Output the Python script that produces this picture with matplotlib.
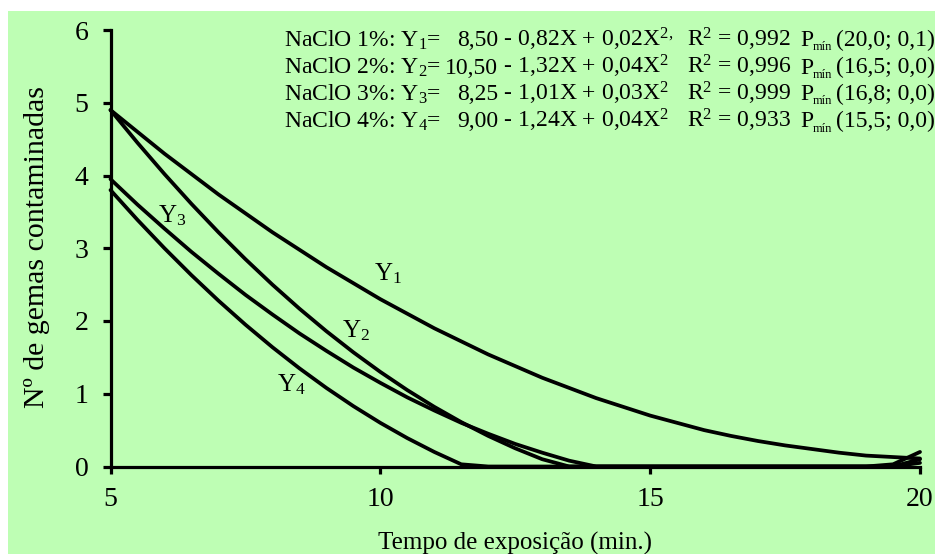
import matplotlib
matplotlib.use("Agg")
import matplotlib.pyplot as plt
from matplotlib.patches import Rectangle

plt.rcParams['font.family'] = ['Liberation Serif', 'DejaVu Serif']
plt.rcParams['mathtext.fontset'] = 'custom'
plt.rcParams['mathtext.rm'] = 'Liberation Serif'
plt.rcParams['mathtext.it'] = 'Liberation Serif:italic'
plt.rcParams['mathtext.bf'] = 'Liberation Serif:bold'

# ---- data ----
x_values = [5.0, 5.5, 6.0, 6.5, 7.0, 7.5, 8.0, 8.5, 9.0, 9.5, 10.0, 10.5, 11.0,
            11.5, 12.0, 12.5, 13.0, 13.5, 14.0, 14.5, 15.0, 15.5, 16.0, 16.5,
            17.0, 17.5, 18.0, 18.5, 19.0, 19.5, 20.0]
y1_values = [4.90, 4.60, 4.30, 4.02, 3.74, 3.48, 3.22, 2.98, 2.74, 2.52, 2.30,
             2.10, 1.90, 1.72, 1.54, 1.38, 1.22, 1.08, 0.94, 0.82, 0.70, 0.60,
             0.50, 0.42, 0.35, 0.29, 0.24, 0.19, 0.15, 0.13, 0.11]
y2_values = [4.90, 4.45, 4.02, 3.61, 3.22, 2.85, 2.50, 2.17, 1.86, 1.57, 1.30,
             1.05, 0.82, 0.61, 0.42, 0.25, 0.10, 0.00, 0.00, 0.00, 0.00, 0.00,
             0.00, 0.00, 0.00, 0.00, 0.00, 0.00, 0.00, 0.00, 0.10]
y3_values = [3.95, 3.60, 3.27, 2.95, 2.65, 2.36, 2.09, 1.83, 1.59, 1.36, 1.15,
             0.95, 0.77, 0.60, 0.45, 0.31, 0.19, 0.08, 0.00, 0.00, 0.00, 0.00,
             0.00, 0.00, 0.00, 0.00, 0.00, 0.00, 0.00, 0.00, 0.05]
y4_values = [3.80, 3.39, 3.00, 2.63, 2.28, 1.95, 1.64, 1.35, 1.08, 0.83, 0.60,
             0.39, 0.20, 0.03, 0.00, 0.00, 0.00, 0.00, 0.00, 0.00, 0.00, 0.00,
             0.00, 0.00, 0.00, 0.00, 0.00, 0.00, 0.00, 0.03, 0.20]
series = [y1_values, y2_values, y3_values, y4_values]

curve_labels = ["Y$_1$", "Y$_2$", "Y$_3$", "Y$_4$"]
curve_label_pos = [(10.15, 2.65), (9.55, 1.87), (6.15, 3.45), (8.35, 1.12)]

x_ticks = [5, 10, 15, 20]
y_ticks = [0, 1, 2, 3, 4, 5, 6]
x_label = "Tempo de exposição (min.)"
y_label = "Nº de gemas contaminadas"

eq_names = ["NaClO 1%: Y$_1$=", "NaClO 2%: Y$_2$=", "NaClO 3%: Y$_3$=", "NaClO 4%: Y$_4$="]
eq_const = ["8,50", "10,50", "8,25", "9,00"]
eq_rest = [" - 0,82X + 0,02X$^{2,}$", " - 1,32X + 0,04X$^2$",
           " - 1,01X + 0,03X$^2$", " - 1,24X + 0,04X$^2$"]
eq_r2 = ["R$^2$ = 0,992", "R$^2$ = 0,996", "R$^2$ = 0,999", "R$^2$ = 0,933"]
eq_pmin = ["(20,0; 0,1)", "(16,5; 0,0)", "(16,8; 0,0)", "(15,5; 0,0)"]

# ---- figure ----
W, H = 940, 554
fig = plt.figure(figsize=(W / 100, H / 100), dpi=100)
fig.patch.set_facecolor('white')
bg = '#BEFEB4'
fig.patches.append(Rectangle((8 / W, 0), (935 - 8) / W, 1 - 11 / H,
                             transform=fig.transFigure, facecolor=bg,
                             edgecolor='none', zorder=-10))

ax = fig.add_axes([110.5 / W, 1 - 466.5 / H, (920 - 110.5) / W, (466.5 - 30) / H])
ax.set_facecolor('none')
ax.set_zorder(2)

for ys in series:
    ax.plot(x_values, ys, color='black', lw=2.7, solid_joinstyle='round',
            solid_capstyle='round', clip_on=False, zorder=3)

for lab, (lx, ly) in zip(curve_labels, curve_label_pos):
    ax.text(lx, ly, lab, fontsize=18, ha='center', va='center', zorder=4)

ax.set_xlim(5, 20)
ax.set_ylim(0, 6)
ax.set_xticks(x_ticks)
ax.set_yticks(y_ticks)
ax.set_xticklabels([str(v) for v in x_ticks])
ax.set_yticklabels([str(v) for v in y_ticks])
for s in ['top', 'right']:
    ax.spines[s].set_visible(False)
for s in ['left', 'bottom']:
    ax.spines[s].set_linewidth(2.3)
    ax.spines[s].set_color('black')
ax.tick_params(axis='both', direction='out', width=2.3, color='black',
               labelsize=20, pad=10)
ax.tick_params(axis='y', length=6)
ax.tick_params(axis='x', length=5)

fig.text(515 / W, 1 - 543 / H, x_label, fontsize=18, ha='center', va='center')
fig.text(37 / W, 1 - 247.5 / H, y_label, fontsize=21.5, ha='center', va='center',
         rotation=90)

baselines = [46.5, 73.5, 100.5, 127.5]
fs = 17
for i, yb in enumerate(baselines):
    yy = 1 - yb / H
    fig.text(284 / W, yy, eq_names[i], fontsize=fs, ha='left', va='baseline')
    fig.text(498 / W, yy, eq_const[i], fontsize=fs, ha='right', va='baseline')
    fig.text(498 / W, yy, eq_rest[i], fontsize=fs, ha='left', va='baseline')
    fig.text(687 / W, yy, eq_r2[i], fontsize=fs, ha='left', va='baseline')
    fig.text(800 / W, yy, "P", fontsize=fs, ha='left', va='baseline')
    fig.text(813 / W, 1 - (yb + 4) / H, "mín", fontsize=9, ha='left',
             va='baseline')
    fig.text(935 / W, yy, eq_pmin[i], fontsize=fs, ha='right', va='baseline')

fig.savefig('out.png', dpi=100, facecolor='white')
